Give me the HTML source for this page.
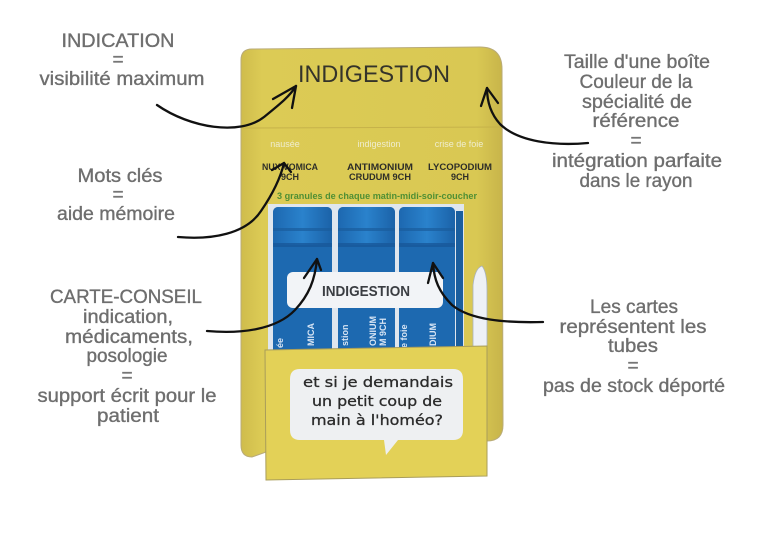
<!DOCTYPE html>
<html><head><meta charset="utf-8">
<style>
html,body{margin:0;padding:0;background:#fff;}
svg{display:block;}
</style></head>
<body>
<svg width="768" height="544" viewBox="0 0 768 544" xmlns="http://www.w3.org/2000/svg">
<defs>
<linearGradient id="cardg" x1="0" x2="1" y1="0" y2="0">
<stop offset="0" stop-color="#cfbc4c"/>
<stop offset="0.08" stop-color="#dccb55"/>
<stop offset="0.9" stop-color="#d9c853"/>
<stop offset="1" stop-color="#c7b44a"/>
</linearGradient>
<linearGradient id="capg" x1="0" x2="1" y1="0" y2="0">
<stop offset="0" stop-color="#1d68b0"/>
<stop offset="0.5" stop-color="#2a82cc"/>
<stop offset="1" stop-color="#1b62a8"/>
</linearGradient>
</defs>
<rect width="768" height="544" fill="#fff"/>

<!-- back card -->
<path d="M252,49 L480,47 Q502,47 502,69 L503,425 Q503,441 487,441 L266,452 L252,457 Q241,457 241,445 L241,60 Q241,49 252,49 Z" fill="url(#cardg)" stroke="#b9ab78" stroke-width="1"/>
<line x1="243" y1="128" x2="501" y2="127" stroke="#c6b24a" stroke-width="1"/>

<text x="374" y="82" font-family="Liberation Sans, sans-serif" font-size="24" fill="#34332a" text-anchor="middle" textLength="152" lengthAdjust="spacingAndGlyphs">INDIGESTION</text>

<g font-family="Liberation Sans, sans-serif" font-size="9" fill="#efedcf" text-anchor="middle">
<text x="285" y="147">nausée</text>
<text x="379" y="147">indigestion</text>
<text x="459" y="147">crise de foie</text>
</g>
<g font-family="Liberation Sans, sans-serif" font-size="9" font-weight="bold" fill="#2e2e28" text-anchor="middle">
<text x="290" y="170" textLength="56" lengthAdjust="spacingAndGlyphs">NUX VOMICA</text>
<text x="290" y="180">9CH</text>
<text x="380" y="170" textLength="66" lengthAdjust="spacingAndGlyphs">ANTIMONIUM</text>
<text x="380" y="180" textLength="62" lengthAdjust="spacingAndGlyphs">CRUDUM 9CH</text>
<text x="460" y="170" textLength="64" lengthAdjust="spacingAndGlyphs">LYCOPODIUM</text>
<text x="460" y="180">9CH</text>
</g>
<text x="377" y="199" font-family="Liberation Sans, sans-serif" font-size="9" font-weight="bold" fill="#4f8f34" text-anchor="middle" textLength="200" lengthAdjust="spacingAndGlyphs">3 granules de chaque matin-midi-soir-coucher</text>

<!-- tubes backing -->
<rect x="268" y="204" width="196" height="146" fill="#dfe6ee"/>
<!-- tube 1 -->
<path d="M273,213 Q273,207 279,207 L326,207 Q332,207 332,213 L332,350 L273,350 Z" fill="#1d69b0"/>
<rect x="273" y="207" width="59" height="38" rx="5" fill="url(#capg)"/>
<rect x="273" y="228" width="59" height="3" fill="#1a5c9c" opacity="0.7"/>
<rect x="273" y="243" width="59" height="4" fill="#18589a" opacity="0.8"/>
<!-- tube 2 -->
<path d="M338,213 Q338,207 344,207 L389,207 Q395,207 395,213 L395,350 L338,350 Z" fill="#1d69b0"/>
<rect x="338" y="207" width="57" height="38" rx="5" fill="url(#capg)"/>
<rect x="338" y="228" width="57" height="3" fill="#1a5c9c" opacity="0.7"/>
<rect x="338" y="243" width="57" height="4" fill="#18589a" opacity="0.8"/>
<!-- tube 3 -->
<path d="M399,213 Q399,207 405,207 L449,207 Q455,207 455,213 L455,350 L399,350 Z" fill="#1d69b0"/>
<rect x="399" y="207" width="56" height="38" rx="5" fill="url(#capg)"/>
<rect x="399" y="228" width="56" height="3" fill="#1a5c9c" opacity="0.7"/>
<rect x="399" y="243" width="56" height="4" fill="#18589a" opacity="0.8"/>
<rect x="456" y="211" width="7" height="139" fill="#1a5e9e"/>
<!-- white tab -->
<path d="M473,347 L473,285 Q475,268 482,266 Q487,272 487,290 L487,347 Z" fill="#eef1f6" stroke="#a8b2bf" stroke-width="0.8"/>

<!-- rotated labels on tubes -->
<g font-family="Liberation Sans, sans-serif" font-size="9" font-weight="bold" fill="#d6e4f4">
<text transform="translate(283,348) rotate(-90)">ée</text>
<text transform="translate(314,346) rotate(-90)">MICA</text>
<text transform="translate(348,346) rotate(-90)">stion</text>
<text transform="translate(376,346) rotate(-90)">ONIUM</text>
<text transform="translate(386,346) rotate(-90)">M 9CH</text>
<text transform="translate(407,348) rotate(-90)">e foie</text>
<text transform="translate(436,346) rotate(-90)">DIUM</text>
</g>

<!-- white card INDIGESTION -->
<rect x="287" y="272" width="156" height="36" rx="6" fill="#f2f4f7"/>
<text x="366" y="296" font-family="Liberation Sans, sans-serif" font-size="15" font-weight="bold" fill="#3a3d42" text-anchor="middle" textLength="88" lengthAdjust="spacingAndGlyphs">INDIGESTION</text>

<!-- pocket -->
<path d="M265,350 L487,346 L487,476 L266,480 Z" fill="#e3d157" stroke="#a99d5a" stroke-width="1"/>
<!-- speech bubble -->
<path d="M300,369 L453,369 Q463,369 463,379 L463,430 Q463,440 453,440 L398,440 L386,455 L384,440 L300,440 Q290,440 290,430 L290,379 Q290,369 300,369 Z" fill="#eef0f2"/>
<g font-family="DejaVu Sans, sans-serif" font-size="14.5" fill="#2b2b2b" text-anchor="middle" stroke="#2b2b2b" stroke-width="0.3">
<text x="378" y="387" textLength="150" lengthAdjust="spacingAndGlyphs">et si je demandais</text>
<text x="377" y="406" textLength="130" lengthAdjust="spacingAndGlyphs">un petit coup de</text>
<text x="377" y="425" textLength="132" lengthAdjust="spacingAndGlyphs">main à l'homéo?</text>
</g>

<!-- arrows -->
<g fill="none" stroke="#111" stroke-width="2.3" stroke-linecap="round" stroke-linejoin="round">
<path d="M157,105 C190,128 240,136 264,117 C280,104 290,96 296,86"/>
<path d="M296,86 L273,99 M296,86 L292,108"/>
<path d="M588,143 C555,146 518,142 500,124 C490,113 487,100 487,88"/>
<path d="M487,88 L481,106 M487,88 L498,103"/>
<path d="M178,237 C212,240 246,234 261,211 C272,195 280,180 284,163"/>
<path d="M284,163 L272,170 M284,163 L291,172"/>
<path d="M207,331 C240,334 276,330 295,310 C309,295 315,280 317,259"/>
<path d="M317,259 L304,278 M317,259 L321,270"/>
<path d="M543,322 C505,323 470,320 452,305 C439,292 434,280 433,263"/>
<path d="M433,263 L428,283 M433,263 L443,278"/>
</g>

<!-- annotation texts -->
<g font-family="Liberation Sans, sans-serif" font-size="19" fill="#6e6e6e" stroke="#6e6e6e" stroke-width="0.35" text-anchor="middle">
<text x="118" y="47" textLength="113" lengthAdjust="spacingAndGlyphs">INDICATION</text>
<text x="118" y="66">=</text>
<text x="122" y="85" textLength="165" lengthAdjust="spacingAndGlyphs">visibilité maximum</text>

<text x="120" y="182" textLength="85" lengthAdjust="spacingAndGlyphs">Mots clés</text>
<text x="118" y="201">=</text>
<text x="116" y="220" textLength="118" lengthAdjust="spacingAndGlyphs">aide mémoire</text>

<text x="126" y="303" textLength="152" lengthAdjust="spacingAndGlyphs">CARTE-CONSEIL</text>
<text x="128" y="323" textLength="90" lengthAdjust="spacingAndGlyphs">indication,</text>
<text x="129" y="343" textLength="128" lengthAdjust="spacingAndGlyphs">médicaments,</text>
<text x="127" y="362" textLength="81" lengthAdjust="spacingAndGlyphs">posologie</text>
<text x="127" y="382">=</text>
<text x="127" y="402" textLength="179" lengthAdjust="spacingAndGlyphs">support écrit pour le</text>
<text x="128" y="422" textLength="62" lengthAdjust="spacingAndGlyphs">patient</text>

<text x="637" y="68" textLength="146" lengthAdjust="spacingAndGlyphs">Taille d'une boîte</text>
<text x="636" y="88" textLength="113" lengthAdjust="spacingAndGlyphs">Couleur de la</text>
<text x="637" y="108" textLength="110" lengthAdjust="spacingAndGlyphs">spécialité de</text>
<text x="636" y="127" textLength="87" lengthAdjust="spacingAndGlyphs">référence</text>
<text x="636" y="147">=</text>
<text x="637" y="167" textLength="170" lengthAdjust="spacingAndGlyphs">intégration parfaite</text>
<text x="636" y="187" textLength="113" lengthAdjust="spacingAndGlyphs">dans le rayon</text>

<text x="634" y="313" textLength="88" lengthAdjust="spacingAndGlyphs">Les cartes</text>
<text x="633" y="333" textLength="147" lengthAdjust="spacingAndGlyphs">représentent les</text>
<text x="633" y="352" textLength="50" lengthAdjust="spacingAndGlyphs">tubes</text>
<text x="633" y="372">=</text>
<text x="634" y="392" textLength="182" lengthAdjust="spacingAndGlyphs">pas de stock déporté</text>
</g>
</svg>
</body></html>
